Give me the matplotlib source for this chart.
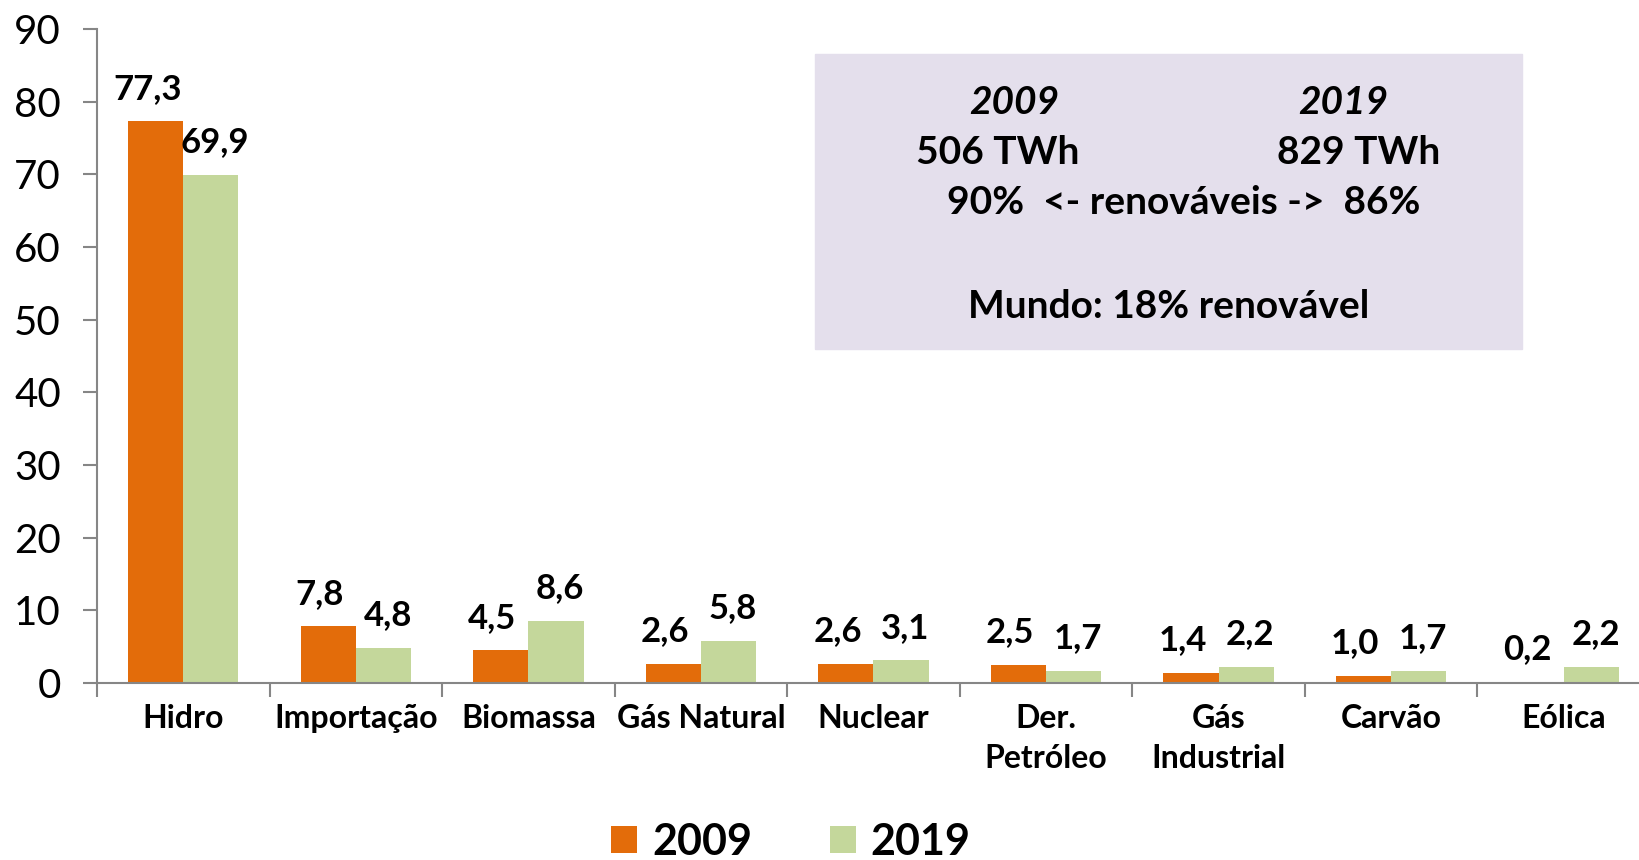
import numpy as np
import matplotlib.pyplot as plt

plt.rcParams['font.family'] = ['Lato', 'DejaVu Sans']

fontes = ['Hidro', 'Importação', 'Biomassa', 'Gás Natural', 'Nuclear',
          'Der.\nPetróleo', 'Gás\nIndustrial', 'Carvão', 'Eólica']
v2009 = [77.3, 7.8, 4.5, 2.6, 2.6, 2.5, 1.4, 1.0, 0.2]
v2019 = [69.9, 4.8, 8.6, 5.8, 3.1, 1.7, 2.2, 1.7, 2.2]

laranja = '#E36C0A'
verde = '#C4D79B'
cinza = '#868686'

fig = plt.figure(figsize=(16.39, 8.6), dpi=100)
# o grafico original e cortado na direita, por isso right > 1
ax = fig.add_axes([97/1639, 1 - 683/860, 1553/1639, 654/860])

x = np.arange(len(fontes))
w = 0.32
b1 = ax.bar(x - w/2, v2009, w, color=laranja, label='2009')
b2 = ax.bar(x + w/2, v2019, w, color=verde, label='2019')

def rotulo(v):
    return f'{v:.1f}'.replace('.', ',')

# rotulos um pouco afastados entre si para nao encostarem
for barras, vals, dx in [(b1, v2009, -6), (b2, v2019, 3)]:
    for r, v in zip(barras, vals):
        ax.annotate(rotulo(v), (r.get_x() + r.get_width()/2, v),
                    xytext=(dx, 12), textcoords='offset points',
                    ha='center', va='bottom', fontsize=25, fontweight='bold')

ax.set_xlim(-0.5, len(fontes) - 0.5)
ax.set_ylim(0, 90)
ax.set_yticks(range(0, 91, 10))
ax.tick_params(axis='y', labelsize=29, length=10, width=1.5, color=cinza, pad=16)

ax.set_xticks(np.arange(len(fontes) + 1) - 0.5)
ax.set_xticklabels([])
ax.set_xticks(x, minor=True)
ax.set_xticklabels(fontes, minor=True, fontsize=23, fontweight='bold',
                   linespacing=1.45)
ax.tick_params(axis='x', which='major', length=10, width=1.5, color=cinza)
ax.tick_params(axis='x', which='minor', length=0, pad=15)

for s in ['top', 'right']:
    ax.spines[s].set_visible(False)
for s in ['left', 'bottom']:
    ax.spines[s].set_color(cinza)
    ax.spines[s].set_linewidth(1.5)

# caixa com o resumo
caixa = plt.Rectangle((815/1639, 1 - 349/860), 707/1639, 295/860,
                      transform=fig.transFigure, color='#E4DFEC', zorder=0)
fig.patches.append(caixa)
def txt(px, py, s, **kw):
    fig.text(px/1639, 1 - py/860, s, ha='center', va='center',
             fontsize=28, fontweight='bold', **kw)
txt(1014, 103, '2009', style='italic')
txt(1343, 103, '2019', style='italic')
txt(998, 153, '506 TWh')
txt(1359, 153, '829 TWh')
txt(1184, 203, '90%  <- renováveis ->  86%')
txt(1169, 307, 'Mundo: 18% renovável')

fig.legend(loc='center', bbox_to_anchor=(791/1639, 1 - 842/860), ncol=2,
           frameon=False, handlelength=0.6, handleheight=0.6,
           columnspacing=1.8, handletextpad=0.35,
           prop={'size': 31, 'weight': 'bold'})

fig.savefig('out.png', dpi=100)
